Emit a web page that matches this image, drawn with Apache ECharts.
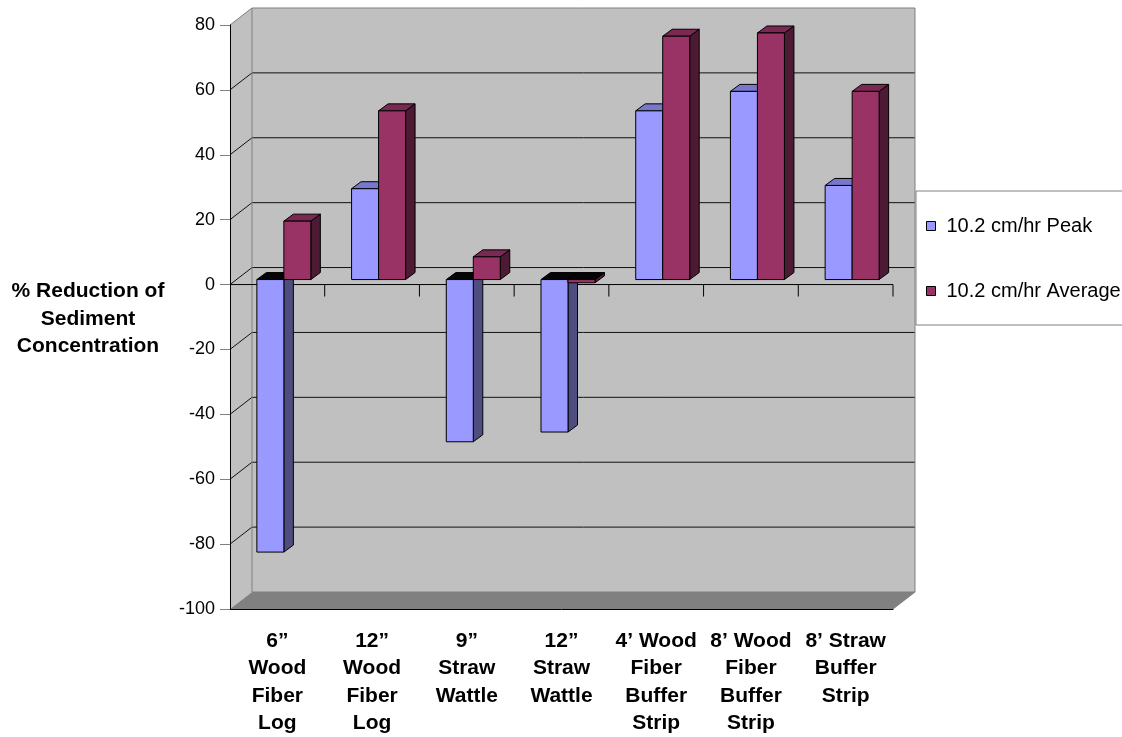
<!DOCTYPE html>
<html>
<head>
<meta charset="utf-8">
<script src="https://cdn.jsdelivr.net/npm/echarts@6/dist/echarts.min.js"></script>
<style>
  html, body { margin: 0; padding: 0; background: #fff; }
  #chart { width: 1122px; height: 737px; }
</style>
</head>
<body>
<div id="chart"></div>
<script>
const categories = [
  "6\u201d\nWood\nFiber\nLog",
  "12\u201d\nWood\nFiber\nLog",
  "9\u201d\nStraw\nWattle",
  "12\u201d\nStraw\nWattle",
  "4\u2019 Wood\nFiber\nBuffer\nStrip",
  "8\u2019 Wood\nFiber\nBuffer\nStrip",
  "8\u2019 Straw\nBuffer\nStrip"
];
const peakValues = [-84, 28, -50, -47, 52, 58, 29];
const averageValues = [18, 52, 7, -1, 75, 76, 58];
const yTicks = [-100, -80, -60, -40, -20, 0, 20, 40, 60, 80];

const FONT = "'Liberation Sans', Arial, sans-serif";
const WALL = "#c0c0c0";
const FLOOR = "#808080";
const EDGE = "#808080";
// depth of the 3D box (back wall offset) and of a bar
const WX = 22, WY = -17;
const BX = 9.5, BY = -7;
const SX = 6.5, SY = -5;

let myChart = echarts.init(document.getElementById("chart"));

function renderWalls(params, api) {
  const cs = params.coordSys;
  const x0 = cs.x, x1 = cs.x + cs.width;
  const yMin = yTicks[0], yMax = yTicks[yTicks.length - 1];
  const yTop = api.coord([0, yMax])[1];
  const yBot = api.coord([0, yMin])[1];
  const children = [];
  const line = (a, b, color) => ({
    type: "line",
    shape: { x1: a[0], y1: a[1], x2: b[0], y2: b[1] },
    style: { stroke: color, lineWidth: 1 }
  });
  // left wall
  children.push({
    type: "polygon",
    shape: { points: [[x0, yTop], [x0 + WX, yTop + WY], [x0 + WX, yBot + WY], [x0, yBot]] },
    style: { fill: WALL }
  });
  // back wall
  children.push({
    type: "rect",
    shape: { x: x0 + WX, y: yTop + WY, width: x1 - x0, height: yBot - yTop },
    style: { fill: WALL }
  });
  // floor
  children.push({
    type: "polygon",
    shape: { points: [[x0, yBot], [x1, yBot], [x1 + WX, yBot + WY], [x0 + WX, yBot + WY]] },
    style: { fill: FLOOR }
  });
  // gridlines on the walls
  yTicks.forEach(function (t) {
    if (t === yMin || t === yMax) return;
    const y = api.coord([0, t])[1];
    children.push(line([x0, y], [x0 + WX, y + WY], "#111"));
    children.push(line([x0 + WX, y + WY], [x1 + WX, y + WY], "#111"));
  });
  // edges
  children.push(line([x0, yTop], [x0 + WX, yTop + WY], EDGE));
  children.push(line([x0 + WX, yTop + WY], [x1 + WX, yTop + WY], EDGE));
  children.push(line([x1 + WX, yTop + WY], [x1 + WX, yBot + WY], EDGE));
  children.push(line([x0 + WX, yTop + WY], [x0 + WX, yBot + WY], EDGE));
  children.push(line([x0 + WX, yBot + WY], [x1 + WX, yBot + WY], EDGE));
  children.push(line([x1, yBot], [x1 + WX, yBot + WY], EDGE));
  // category axis at zero
  const y0 = api.coord([0, 0])[1];
  const bw = api.size([1, 0])[0];
  children.push(line([x0, y0], [x1, y0], "#000"));
  for (let i = 0; i < categories.length; i++) {
    const bx = api.coord([i, 0])[0] + bw / 2;
    children.push(line([bx, y0], [bx, y0 + 12], "#000"));
  }
  return { type: "group", children: children, silent: true };
}

function makeBar(side, front, top, dark) {
  return function (params, api) {
    const i = api.value(0), v = api.value(1);
    const bw = api.size([1, 0])[0];
    const w = bw * 0.285;
    const p0 = api.coord([i, 0]);
    const p1 = api.coord([i, v]);
    const left = p0[0] + SX + (side < 0 ? -w : 0);
    const ya = p0[1] + SY, yb = p1[1] + SY;
    const yt = Math.min(ya, yb), ybt = Math.max(ya, yb);
    const stroke = { stroke: "#000", lineWidth: 1, lineJoin: "round" };
    return {
      type: "group",
      children: [
        {
          type: "polygon",
          shape: { points: [[left + w, yt], [left + w + BX, yt + BY], [left + w + BX, ybt + BY], [left + w, ybt]] },
          style: Object.assign({ fill: dark }, stroke)
        },
        {
          type: "polygon",
          shape: { points: [[left, yt], [left + BX, yt + BY], [left + w + BX, yt + BY], [left + w, yt]] },
          style: Object.assign({ fill: v >= 0 ? top : "#050505" }, stroke)
        },
        {
          type: "rect",
          shape: { x: left, y: yt, width: w, height: ybt - yt },
          style: Object.assign({ fill: front }, stroke)
        }
      ]
    };
  };
}

let option = {
  backgroundColor: "#fff",
  animation: false,
  grid: { left: 230, top: 25, width: 663, height: 585, containLabel: false },
  legend: {
    orient: "vertical",
    left: 916,
    top: 191,
    padding: [25, 60, 24, 10],
    itemWidth: 9,
    itemHeight: 9,
    itemGap: 45,
    icon: "rect",
    borderColor: "#808080",
    borderWidth: 1,
    backgroundColor: "#fff",
    textStyle: { fontSize: 20, fontFamily: FONT, color: "#000", padding: [0, 0, 0, 6] },
    data: [
      { name: "10.2 cm/hr Peak", itemStyle: { color: "#9999ff", borderColor: "#000", borderWidth: 1 } },
      { name: "10.2 cm/hr Average", itemStyle: { color: "#993366", borderColor: "#000", borderWidth: 1 } }
    ]
  },
  graphic: [
    {
      type: "text",
      x: 88,
      y: 319,
      style: {
        text: "% Reduction of\nSediment\nConcentration",
        font: "bold 21px " + FONT,
        lineHeight: 27.5,
        fill: "#000",
        textAlign: "center",
        textVerticalAlign: "middle"
      }
    }
  ],
  xAxis: {
    type: "category",
    data: categories,
    position: "bottom",
    z: 5,
    axisLine: { onZero: false, lineStyle: { color: "#000", width: 1 } },
    axisTick: { length: 12, lineStyle: { color: "#000" } },
    axisLabel: {
      interval: 0,
      margin: 18,
      fontSize: 21,
      fontWeight: "bold",
      fontFamily: FONT,
      color: "#000",
      lineHeight: 27.5
    },
    splitLine: { show: false }
  },
  yAxis: {
    type: "value",
    min: -100,
    max: 80,
    interval: 20,
    z: 5,
    axisLine: { show: true, lineStyle: { color: "#000", width: 1 } },
    axisTick: { show: true, length: 10, lineStyle: { color: "#808080" } },
    axisLabel: { fontSize: 18, fontFamily: FONT, color: "#000", margin: 15 },
    splitLine: { show: false }
  },
  series: [
    {
      type: "custom",
      name: "walls",
      z: 1,
      silent: true,
      renderItem: renderWalls,
      data: [[0, 0]]
    },
    {
      type: "custom",
      name: "10.2 cm/hr Peak",
      z: 2,
      itemStyle: { color: "#9999ff" },
      renderItem: makeBar(-1, "#9999ff", "#7777cc", "#4d4d80"),
      data: peakValues.map((v, i) => [i, v])
    },
    {
      type: "custom",
      name: "10.2 cm/hr Average",
      z: 3,
      itemStyle: { color: "#993366" },
      renderItem: makeBar(1, "#993366", "#7a2952", "#4d1a33"),
      data: averageValues.map((v, i) => [i, v])
    }
  ]
};
myChart.setOption(option);
window.addEventListener("resize", function () { myChart.resize(); });
</script>
</body>
</html>
